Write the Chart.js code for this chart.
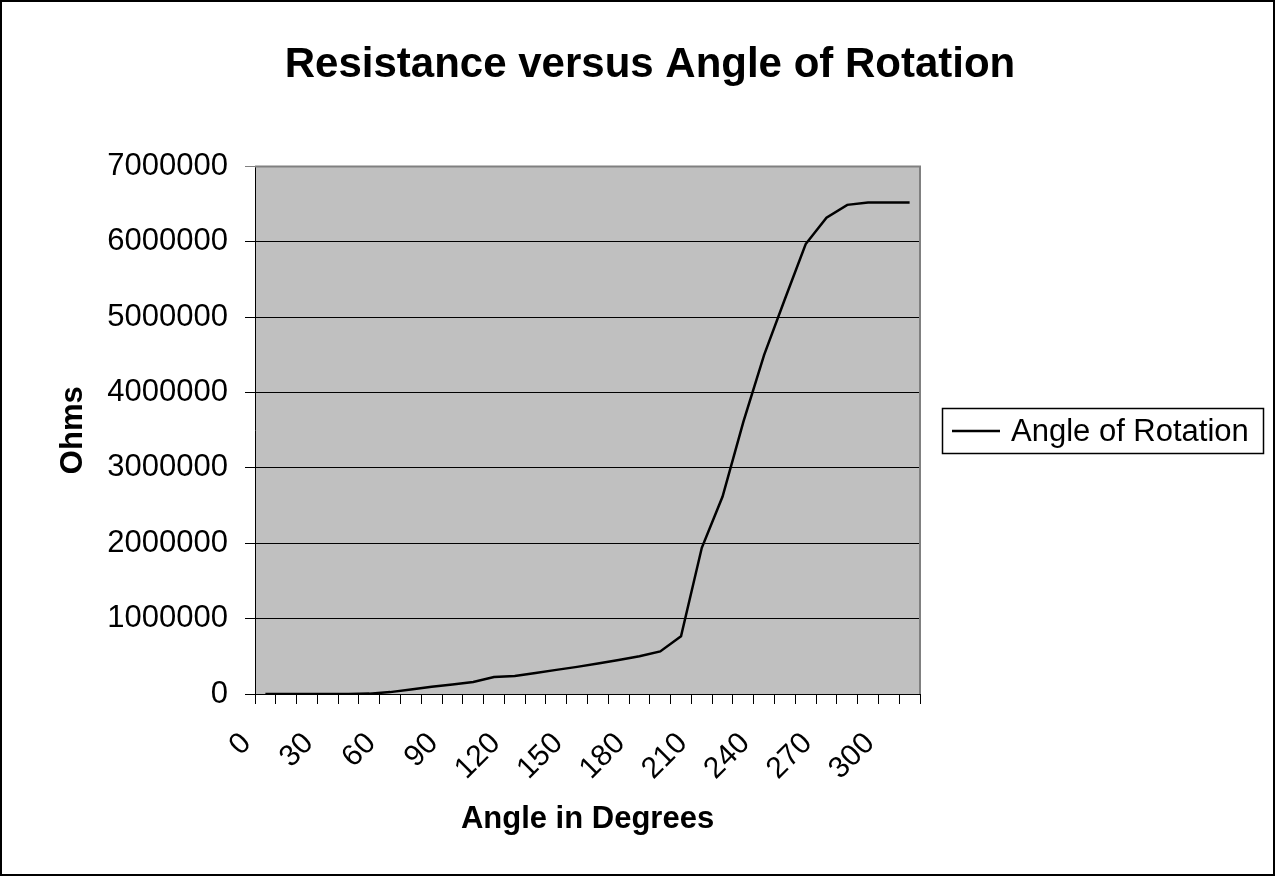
<!DOCTYPE html>
<html>
<head>
<meta charset="utf-8">
<script src="https://cdn.jsdelivr.net/npm/chart.js@4.4.1/dist/chart.umd.min.js"></script>
<style>
  html, body { margin: 0; padding: 0; background: #fff; }
  #wrap { width: 1275px; height: 876px; }
</style>
</head>
<body>
<div id="wrap"><canvas id="chart" width="1275" height="876"></canvas></div>
<script>
// angle categories (degrees)
const angles = ['0', '10', '20', '30', '40', '50', '60', '70', '80', '90', '100', '110',
  '120', '130', '140', '150', '160', '170', '180', '190', '200', '210', '220', '230',
  '240', '250', '260', '270', '280', '290', '300', '310'];

// resistance (ohms)
const ohms = [0, 0, 0, 0, 0, 5000, 25000, 60000, 95000, 125000, 160000, 225000,
  240000, 280000, 320000, 360000, 405000, 450000, 500000, 565000, 765000, 1940000,
  2620000, 3610000, 4500000, 5240000, 5970000, 6320000, 6490000, 6520000, 6520000, 6520000];

const yTicks = [0, 1000000, 2000000, 3000000, 4000000, 5000000, 6000000, 7000000];

const FONT = 'Liberation Sans, Arial, sans-serif';

// gray plot area, outer frame and the boxed legend, like the Excel original
const excelLook = {
  id: 'excelLook',
  afterLayout(chart) {
    // title is centred over the whole chart incl. legend column
    if (chart.titleBlock) {
      chart.titleBlock.left = 25;
      chart.titleBlock.right = chart.width;
    }
  },
  beforeDraw(chart) {
    const { ctx, chartArea: a } = chart;
    ctx.save();
    ctx.fillStyle = '#fff';
    ctx.fillRect(0, 0, chart.width, chart.height);
    ctx.fillStyle = '#c0c0c0';
    ctx.fillRect(a.left, a.top, a.right - a.left, a.bottom - a.top);
    ctx.restore();
  },
  beforeDatasetsDraw(chart) {
    const { ctx, chartArea: a } = chart;
    ctx.save();
    ctx.strokeStyle = '#808080';
    ctx.lineWidth = 2;
    ctx.beginPath();
    ctx.moveTo(a.left, a.top);
    ctx.lineTo(a.right, a.top);
    ctx.lineTo(a.right, a.bottom);
    ctx.stroke();
    ctx.restore();
  },
  afterDraw(chart) {
    const ctx = chart.ctx;
    const ds = chart.data.datasets[0];
    ctx.save();
    // outer frame
    ctx.strokeStyle = '#000';
    ctx.lineWidth = 2;
    ctx.strokeRect(1, 1, chart.width - 2, chart.height - 2);
    // legend
    ctx.lineWidth = 1.5;
    ctx.strokeRect(942.5, 408.5, 321, 45);
    ctx.strokeStyle = ds.borderColor;
    ctx.lineWidth = 2.5;
    ctx.beginPath();
    ctx.moveTo(952, 431);
    ctx.lineTo(1000, 431);
    ctx.stroke();
    ctx.fillStyle = '#000';
    ctx.font = '31px ' + FONT;
    ctx.textBaseline = 'middle';
    ctx.fillText(ds.label, 1011, 432);
    ctx.restore();
  }
};

const ctx = document.getElementById('chart').getContext('2d');

new Chart(ctx, {
  type: 'line',
  data: {
    labels: angles,
    datasets: [{
      label: 'Angle of Rotation',
      data: ohms,
      borderColor: '#000',
      borderWidth: 2.5,
      pointRadius: 0,
      tension: 0,
      fill: false
    }]
  },
  plugins: [excelLook],
  options: {
    responsive: false,
    animation: false,
    layout: { padding: { left: 0, right: 355, top: 0, bottom: 0 } },
    plugins: {
      legend: { display: false },
      tooltip: { enabled: false },
      title: {
        display: true,
        text: 'Resistance versus Angle of Rotation',
        color: '#000',
        font: { family: FONT, size: 42, weight: 'bold' },
        padding: { top: 40, bottom: 76 }
      }
    },
    scales: {
      x: {
        type: 'category',
        offset: true,
        afterFit(scale) { scale.height = 182; },
        grid: {
          offset: true,
          drawOnChartArea: false,
          drawTicks: true,
          tickLength: 10,
          color: '#000'
        },
        border: { color: '#000', width: 1 },
        ticks: {
          autoSkip: false,
          minRotation: 45,
          maxRotation: 45,
          padding: 22,
          labelOffset: -19,
          color: '#000',
          font: { family: FONT, size: 30 },
          callback: (v, i) => (i % 3 === 0 ? angles[i] : '')
        },
        title: {
          display: true,
          text: 'Angle in Degrees',
          color: '#000',
          font: { family: FONT, size: 31, weight: 'bold' },
          padding: { top: 0, bottom: 38 }
        }
      },
      y: {
        min: yTicks[0],
        max: yTicks[yTicks.length - 1],
        afterFit(scale) { scale.width = 255; },
        afterBuildTicks(scale) { scale.ticks = yTicks.map(v => ({ value: v })); },
        grid: {
          color: c => (c.tick && c.tick.value === 7000000 ? '#808080' : '#000'),
          lineWidth: 1,
          drawTicks: true,
          tickLength: 10
        },
        border: { color: '#000', width: 1 },
        ticks: {
          padding: 17,
          color: '#000',
          font: { family: FONT, size: 31 },
          callback: v => String(v)
        },
        title: {
          display: true,
          text: 'Ohms',
          color: '#000',
          font: { family: FONT, size: 31, weight: 'bold' },
          padding: { top: 55, bottom: 0 }
        }
      }
    }
  }
});
</script>
</body>
</html>
